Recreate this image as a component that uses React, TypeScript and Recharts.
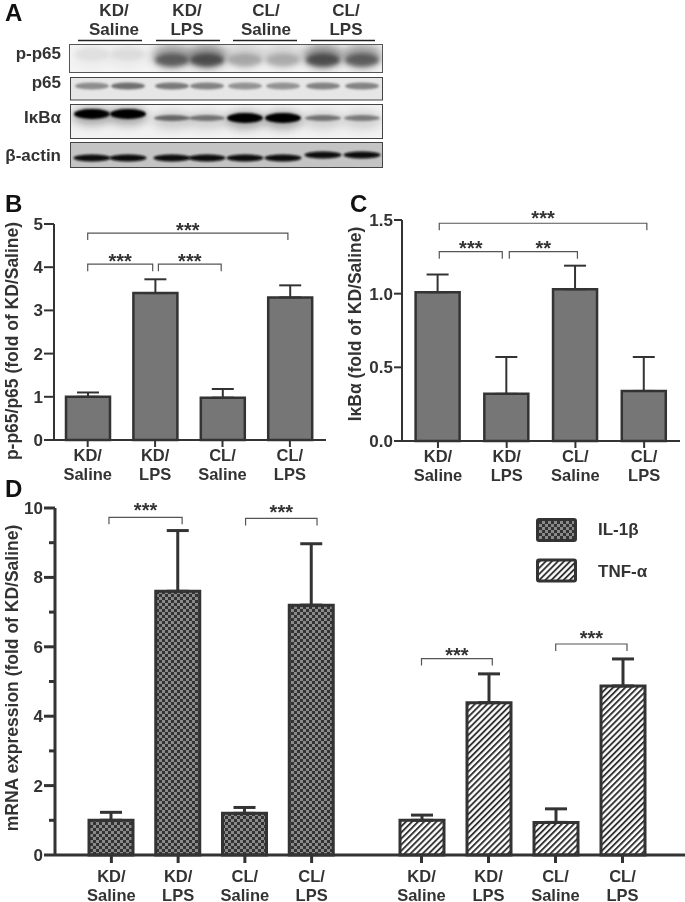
import React from "react";
import { BarChart, Bar, XAxis, YAxis, ErrorBar, ReferenceLine, Label } from "recharts";

const INK = "#333333";
const FONT = "'Liberation Sans', Arial, sans-serif";

const groups = ["KD/Saline", "KD/LPS", "CL/Saline", "CL/LPS"];

const pp65Values = [1.0, 3.4, 0.98, 3.3];
const pp65Errors = [0.1, 0.32, 0.2, 0.28];
const ikbaValues = [1.01, 0.32, 1.03, 0.34];
const ikbaErrors = [0.12, 0.25, 0.16, 0.23];
const il1bValues = [1.0, 7.6, 1.2, 7.2];
const il1bErrors = [0.23, 1.75, 0.17, 1.77];
const tnfValues = [1.0, 4.39, 0.94, 4.87];
const tnfErrors = [0.15, 0.83, 0.39, 0.78];

const pp65Ticks = [0, 1, 2, 3, 4, 5];
const ikbaTicks = [0, 0.5, 1, 1.5];
const mrnaTicks = [0, 1, 2, 3, 4, 5, 6, 7, 8, 9, 10];

const blotLanes = [92, 128, 172, 207, 245, 283, 323, 362];
const pp65Bands = [0.07, 0.08, 0.72, 0.85, 0.3, 0.28, 0.85, 0.72];
const p65Bands = [0.45, 0.6, 0.55, 0.5, 0.42, 0.42, 0.5, 0.5];
const ikbaBands = [1, 1, 0.5, 0.45, 1, 1, 0.45, 0.42];

const blotHeaders = [
  { top: "KD/", bottom: "Saline", x: 114, x1: 78, x2: 142 },
  { top: "KD/", bottom: "LPS", x: 187, x1: 156, x2: 220 },
  { top: "CL/", bottom: "Saline", x: 266, x1: 233, x2: 297 },
  { top: "CL/", bottom: "LPS", x: 346, x1: 311, x2: 375 },
];

const toRows = (values: number[], errors: number[]) =>
  groups.map((name, i) => ({ name, value: values[i], err: errors[i] }));

const upOnly = (d: { err: number }) => [0, d.err];

const GroupTick = ({ x, y, payload, first = 12, gap = 19 }: any) => {
  const [a, b] = String(payload.value).split("/");
  return (
    <text x={x} y={y} textAnchor="middle" fontFamily={FONT} fontWeight="bold" fontSize={16.5} fill={INK}>
      <tspan x={x} dy={first}>{a}/</tspan>
      <tspan x={x} dy={gap}>{b}</tspan>
    </text>
  );
};

// y tick with long marks on labelled values, short ones in between
const ValueTick = ({ x, y, payload, every, digits, len, sw = 2 }: any) => {
  const major = Math.abs(payload.value / every - Math.round(payload.value / every)) < 1e-6;
  return (
    <g>
      <line x1={x} x2={x - (major ? len : 6)} y1={y} y2={y} stroke={INK} strokeWidth={sw} />
      {major && (
        <text x={x - len - 1} y={y + 6} textAnchor="end" fontFamily={FONT} fontWeight="bold" fontSize={17} fill={INK}>
          {payload.value.toFixed(digits)}
        </text>
      )}
    </g>
  );
};

const Bracket = ({ x1, x2, y1, stars, drop = 7, d1 = 0, d2 = 0, lift = 8 }: any) => {
  const l = x1 + d1;
  const r = x2 + d2;
  return (
    <g>
      <path d={`M${l} ${y1 + drop}V${y1}H${r}V${y1 + drop}`} fill="none" stroke="#555" strokeWidth={1.2} />
      <text x={(l + r) / 2} y={y1 - lift + 11.6} textAnchor="middle" fontFamily={FONT} fontWeight="bold" fontSize={20} fill={INK}>
        {stars}
      </text>
    </g>
  );
};

const VerticalTitle = ({ text, x, y, size }: any) => (
  <text
    transform={`translate(${x},${y}) rotate(-90)`}
    textAnchor="middle"
    fontFamily={FONT}
    fontWeight="bold"
    fontSize={size}
    fill={INK}
  >
    {text}
  </text>
);

const PatternDefs = () => (
  <defs>
    <pattern id="checker" width="6" height="6" patternUnits="userSpaceOnUse">
      <rect width="6" height="6" fill="#333" />
      <rect width="3" height="3" fill="#8a8a8a" />
      <rect x="3" y="3" width="3" height="3" fill="#8a8a8a" />
    </pattern>
    <pattern id="hatch" width="4.3" height="6" patternUnits="userSpaceOnUse" patternTransform="rotate(45)">
      <rect width="4.3" height="6" fill="#fff" />
      <rect width="1.9" height="6" fill="#333" />
    </pattern>
  </defs>
);

const Blot = () => (
  <svg width={685} height={185} style={{ position: "absolute", left: 0, top: 0 }}>
    <defs>
      <filter id="halo" x="-60%" y="-120%" width="220%" height="340%">
        <feGaussianBlur stdDeviation="5" />
      </filter>
      <filter id="soft" x="-30%" y="-60%" width="160%" height="220%">
        <feGaussianBlur stdDeviation="2.2" />
      </filter>
      <filter id="soft2" x="-30%" y="-80%" width="160%" height="260%">
        <feGaussianBlur stdDeviation="1.2" />
      </filter>
      <clipPath id="r1"><rect x={69.5} y={44.5} width={313} height={28} /></clipPath>
      <clipPath id="r2"><rect x={70.5} y={77.5} width={312} height={22.5} /></clipPath>
      <clipPath id="r3"><rect x={70.5} y={104.5} width={312} height={34} /></clipPath>
    </defs>
    <text x={5} y={21} fontFamily={FONT} fontWeight="bold" fontSize={24} fill="#111">A</text>
    {blotHeaders.map((h) => (
      <g key={h.x} fontFamily={FONT} fontWeight="bold" fontSize={17} fill={INK} textAnchor="middle">
        <text x={h.x} y={16}>{h.top}</text>
        <text x={h.x} y={35}>{h.bottom}</text>
        <line x1={h.x1} x2={h.x2} y1={40.5} y2={40.5} stroke="#222" strokeWidth={1.3} />
      </g>
    ))}
    <g fontFamily={FONT} fontWeight="bold" fontSize={17} fill={INK} textAnchor="end">
      <text x={61} y={59}>p-p65</text>
      <text x={61} y={88}>p65</text>
      <text x={61} y={123}>IκBα</text>
      <text x={61} y={161}>β-actin</text>
    </g>

    <rect x={69.5} y={44.5} width={313} height={28} fill="#f4f4f4" />
    <g clipPath="url(#r1)">
      {pp65Bands.map((d, i) => (
        <g key={i}>
          <ellipse cx={blotLanes[i]} cy={56} rx={20} ry={12} fill="#444" opacity={d * 0.7} filter="url(#halo)" />
          <ellipse cx={blotLanes[i]} cy={i < 2 ? 54 : 60} rx={17} ry={i < 2 ? 6 : 6.5} fill="#333" opacity={d * 0.85} filter="url(#soft)" />
        </g>
      ))}
    </g>
    <rect x={69.5} y={44.5} width={313} height={28} fill="none" stroke="#555" />

    <rect x={70.5} y={77.5} width={312} height={22.5} fill="#e6e6e6" />
    <g clipPath="url(#r2)">
      {p65Bands.map((d, i) => (
        <ellipse key={i} cx={blotLanes[i]} cy={86} rx={17} ry={3.5} fill="#222" opacity={d} filter="url(#soft2)" />
      ))}
    </g>
    <rect x={70.5} y={77.5} width={312} height={22.5} fill="none" stroke="#444" />

    <rect x={70.5} y={104.5} width={312} height={34} fill="#f2f2f2" />
    <g clipPath="url(#r3)">
      {ikbaBands.map((d, i) => (
        <g key={i}>
          <ellipse cx={blotLanes[i]} cy={i < 2 ? 116 : 120} rx={20} ry={9} fill="#555" opacity={d * 0.5} filter="url(#halo)" />
          <ellipse cx={blotLanes[i]} cy={i < 2 ? 114 : 118} rx={18} ry={d > 0.8 ? 5 : 3} fill="#000" opacity={d} filter="url(#soft2)" />
        </g>
      ))}
    </g>
    <rect x={70.5} y={104.5} width={312} height={34} fill="none" stroke="#444" />

    <rect x={70.5} y={142.5} width={312} height={25} fill="#c4c4c4" stroke="#444" />
    {blotLanes.map((cx, i) => (
      <ellipse key={i} cx={cx} cy={i > 5 ? 155 : 158} rx={18.5} ry={3.4} fill="#0a0a0a" filter="url(#soft2)" />
    ))}
  </svg>
);

const PanelLetter = ({ x, y, children }: any) => (
  <div style={{ position: "absolute", left: x, top: y - 22, font: `bold 24px ${FONT}`, color: "#111", lineHeight: "27px" }}>
    {children}
  </div>
);

const Legend = () => (
  <svg width={150} height={70} style={{ position: "absolute", left: 530, top: 515 }}>
    <rect x={7.5} y={4.5} width={38} height={21} rx={1.5} fill="url(#checker)" stroke={INK} strokeWidth={3} />
    <rect x={7.5} y={45} width={38} height={21} rx={1.5} fill="url(#hatch)" stroke={INK} strokeWidth={3} />
    <g fontFamily={FONT} fontWeight="bold" fontSize={17} fill={INK}>
      <text x={68} y={20}>IL-1β</text>
      <text x={68} y={62}>TNF-α</text>
    </g>
  </svg>
);

const App = () => {
  const pp65 = toRows(pp65Values, pp65Errors);
  const ikba = toRows(ikbaValues, ikbaErrors);
  const il1b = toRows(il1bValues, il1bErrors);
  const tnf = toRows(tnfValues, tnfErrors);

  return (
    <div style={{ position: "absolute", left: 0, top: 0, width: 685, height: 902, background: "#fff", overflow: "hidden", filter: "blur(0.4px)" }}>
      <Blot />
      <PanelLetter x={5} y={212}>B</PanelLetter>
      <PanelLetter x={350} y={212}>C</PanelLetter>
      <PanelLetter x={5} y={497}>D</PanelLetter>

      {/* B */}
      <div style={{ position: "absolute", left: 0, top: 185 }}>
        <BarChart width={340} height={300} data={pp65} margin={{ top: 39, right: 14, bottom: 0, left: 0 }} barSize={44}>
          <XAxis dataKey="name" height={45} interval={0} axisLine={{ stroke: INK, strokeWidth: 2 }} tickLine={{ stroke: INK, strokeWidth: 2 }} tickSize={7} tick={<GroupTick />} padding={{ left: 0, right: 2.4 }} />
          <YAxis width={54} domain={[0, 5]} ticks={pp65Ticks} axisLine={{ stroke: INK, strokeWidth: 2 }} tickLine={false} tickSize={0} tickMargin={0} tick={<ValueTick every={1} digits={0} len={10} />} interval={0}>
            <Label content={() => <VerticalTitle text="p-p65/p65 (fold of KD/Saline)" x={18} y={156} size={17.5} />} />
          </YAxis>
          <Bar dataKey="value" fill="#767676" stroke={INK} strokeWidth={2.5} isAnimationActive={false}>
            <ErrorBar dataKey={upOnly} direction="y" width={11} stroke={INK} strokeWidth={2} isAnimationActive={false} />
          </Bar>
          <ReferenceLine segment={[{ x: groups[0], y: 4.79 }, { x: groups[3], y: 4.79 }]} shape={<Bracket stars="***" d2={-2} />} />
          <ReferenceLine segment={[{ x: groups[0], y: 4.07 }, { x: groups[1], y: 4.07 }]} shape={<Bracket stars="***" d2={-2.4} />} />
          <ReferenceLine segment={[{ x: groups[1], y: 4.07 }, { x: groups[2], y: 4.07 }]} shape={<Bracket stars="***" d1={3.3} d2={-1.3} />} />
        </BarChart>
      </div>

      {/* C */}
      <div style={{ position: "absolute", left: 340, top: 185 }}>
        <BarChart width={345} height={300} data={ikba} margin={{ top: 35, right: 5, bottom: 0, left: 0 }} barSize={44}>
          <XAxis dataKey="name" height={44} interval={0} axisLine={{ stroke: INK, strokeWidth: 2 }} tickLine={{ stroke: INK, strokeWidth: 2 }} tickSize={7} tick={<GroupTick />} padding={{ left: 1.6, right: 1.5 }} />
          <YAxis width={62} domain={[0, 1.5]} ticks={ikbaTicks} axisLine={{ stroke: INK, strokeWidth: 2 }} tickLine={false} tickSize={0} tickMargin={0} tick={<ValueTick every={0.5} digits={1} len={8} />} interval={0}>
            <Label content={() => <VerticalTitle text="IκBα (fold of KD/Saline)" x={21} y={139} size={17.5} />} />
          </YAxis>
          <Bar dataKey="value" fill="#767676" stroke={INK} strokeWidth={2.5} isAnimationActive={false}>
            <ErrorBar dataKey={upOnly} direction="y" width={11} stroke={INK} strokeWidth={2} isAnimationActive={false} />
          </Bar>
          <ReferenceLine segment={[{ x: groups[0], y: 1.478 }, { x: groups[3], y: 1.478 }]} shape={<Bracket stars="***" d1={1.3} d2={2.7} lift={10} />} />
          <ReferenceLine segment={[{ x: groups[0], y: 1.285 }, { x: groups[1], y: 1.285 }]} shape={<Bracket stars="***" d1={1.3} d2={-4.4} lift={8.7} />} />
          <ReferenceLine segment={[{ x: groups[1], y: 1.285 }, { x: groups[2], y: 1.285 }]} shape={<Bracket stars="**" d1={2.6} d2={2} lift={8.7} />} />
        </BarChart>
      </div>

      {/* D, the gap between the two cytokine groups comes from two plots side by side */}
      <div style={{ position: "absolute", left: 0, top: 480 }}>
        <BarChart width={345} height={422} data={il1b} margin={{ top: 28, right: 0, bottom: 0, left: 0 }} barSize={44}>
          <PatternDefs />
          <XAxis dataKey="name" height={47} interval={0} axisLine={{ stroke: INK, strokeWidth: 3 }} tickLine={{ stroke: INK, strokeWidth: 3 }} tickSize={8} tick={<GroupTick first={16.5} gap={19} />} padding={{ left: 23, right: 0 }} />
          <YAxis width={55} domain={[0, 10]} ticks={mrnaTicks} axisLine={{ stroke: INK, strokeWidth: 3 }} tickLine={false} tickSize={0} tickMargin={0} tick={<ValueTick every={2} digits={0} len={11} sw={3} />} interval={0}>
            <Label content={() => <VerticalTitle text="mRNA expression (fold of KD/Saline)" x={18} y={198} size={17.5} />} />
          </YAxis>
          <Bar dataKey="value" fill="url(#checker)" stroke={INK} strokeWidth={3} isAnimationActive={false}>
            <ErrorBar dataKey={upOnly} direction="y" width={11} stroke={INK} strokeWidth={3} isAnimationActive={false} />
          </Bar>
          <ReferenceLine segment={[{ x: groups[0], y: 9.73 }, { x: groups[1], y: 9.73 }]} shape={<Bracket stars="***" d1={-2.4} d2={4} lift={11.6} />} />
          <ReferenceLine segment={[{ x: groups[2], y: 9.7 }, { x: groups[3], y: 9.7 }]} shape={<Bracket stars="***" d1={0.7} d2={5.4} lift={11} />} />
        </BarChart>
      </div>
      <div style={{ position: "absolute", left: 345, top: 480 }}>
        <BarChart width={340} height={422} data={tnf} margin={{ top: 28, right: 0, bottom: 0, left: 0 }} barSize={44}>
          <XAxis dataKey="name" height={47} interval={0} axisLine={{ stroke: INK, strokeWidth: 3 }} tickLine={{ stroke: INK, strokeWidth: 3 }} tickSize={8} tick={<GroupTick first={16.5} gap={19} />} padding={{ left: 43, right: 29 }} />
          <YAxis hide width={0} domain={[0, 10]} ticks={mrnaTicks} />
          <Bar dataKey="value" fill="url(#hatch)" stroke={INK} strokeWidth={3} isAnimationActive={false}>
            <ErrorBar dataKey={upOnly} direction="y" width={11} stroke={INK} strokeWidth={3} isAnimationActive={false} />
          </Bar>
          <ReferenceLine segment={[{ x: groups[0], y: 5.66 }, { x: groups[1], y: 5.66 }]} shape={<Bracket stars="***" d2={3.8} lift={8.3} />} />
          <ReferenceLine segment={[{ x: groups[2], y: 6.08 }, { x: groups[3], y: 6.08 }]} shape={<Bracket stars="***" d1={0.2} d2={4.5} lift={11} />} />
        </BarChart>
      </div>
      <Legend />
    </div>
  );
};

export default App;
